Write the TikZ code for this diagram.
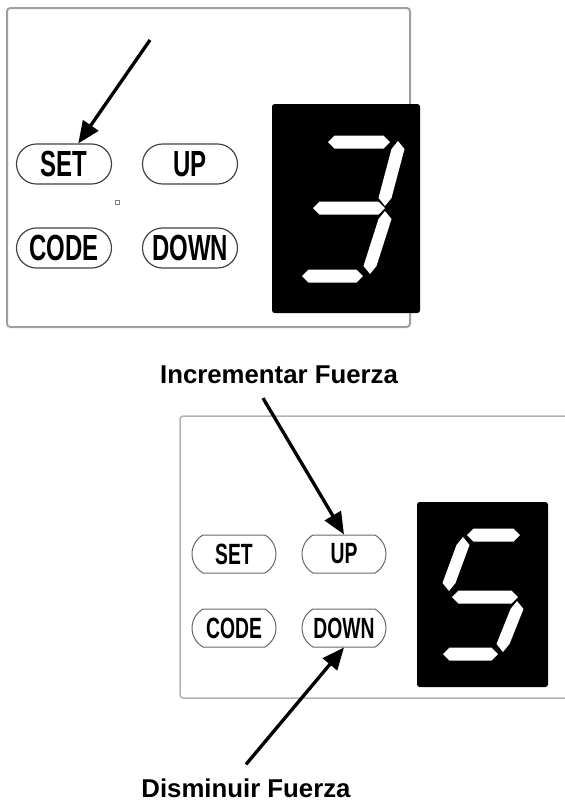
\documentclass[tikz,border=0pt]{standalone}
\usepackage{fontspec}
\setmainfont{Liberation Sans}
\usetikzlibrary{shapes.misc,arrows.meta}

\tikzset{
  panel/.style={draw=gray!75, line width=0.06cm, rounded corners=0.1cm},
  screen/.style={fill=black, rounded corners=0.08cm},
  keybig/.style={draw=black!75, line width=0.035cm, rounded rectangle, minimum width=2.85cm, minimum height=1.2cm, inner sep=0pt, font=\bfseries\fontsize{31}{31}\selectfont},
  keysmall/.style={draw=black!60, line width=0.03cm, rounded rectangle, rounded rectangle arc length=120, minimum width=2.52cm, minimum height=1.14cm, inner sep=0pt, font=\bfseries\fontsize{25}{25}\selectfont},
  callout/.style={font=\bfseries\fontsize{22}{22}\selectfont},
  pointer/.style={line width=0.1cm, -{Triangle[length=0.66cm,width=0.55cm]}},
  segment/.style={fill=white}
}
\newcommand{\keytext}[1]{\scalebox{0.66}[1]{#1}}
% seven segment pieces (pixel units)
\newcommand{\segh}[3]{\fill[segment] (#1,#3) -- ({#1+6.5},{#3-6.5}) -- ({#2-6.5},{#3-6.5}) -- (#2,#3) -- ({#2-6.5},{#3+6.5}) -- ({#1+6.5},{#3+6.5}) -- cycle;}
\newcommand{\segv}[4]{\fill[segment] (#1,#2) -- ({#1+6.5},{#2+8}) -- ({#3+6.5},{#4-8}) -- (#3,#4) -- ({#3-6.5},{#4-8}) -- ({#1-6.5},{#2+8}) -- cycle;}

\begin{document}
\begin{tikzpicture}[x=0.03cm, y=-0.03cm]
\useasboundingbox (0,0) rectangle (565,803);
\clip (0,0) rectangle (565,803);

% Top panel: SET
\draw[panel] (7,8) rectangle (410,327);
\node[keybig] (set1) at (64,164) {\keytext{SET}};
\node[keybig] (up1) at (190,164) {\keytext{UP}};
\node[keybig] (code1) at (64,248) {\keytext{CODE}};
\node[keybig] (down1) at (190,248) {\keytext{DOWN}};
\draw[gray, line width=0.02cm] (115,200) rectangle (119,204);
\fill[screen] (272,104) rectangle (420,313);
\segh{328}{390}{142}
\segh{313}{385}{208}
\segh{302}{363}{276}
\segv{398}{141}{385}{206}
\segv{385}{211}{370}{274}
\coordinate (settail) at (150,40);
\draw[pointer] (settail) -- (set1);

% Bottom panel: UP / DOWN
\draw[panel, draw=gray!60, line width=0.045cm] (180,416) rectangle (590,698);
\node[keysmall] (set2) at (234,554) {\keytext{SET}};
\node[keysmall] (up2) at (344,554) {\keytext{UP}};
\node[keysmall] (code2) at (234,628) {\keytext{CODE}};
\node[keysmall] (down2) at (344,628) {\keytext{DOWN}};
\fill[screen] (417,502) rectangle (548,687);
\segh{467}{520}{535}
\segv{463}{537}{449}{591}
\segh{452}{518}{597}
\segv{517}{601}{503}{652}
\segh{443}{498}{654}

\node[callout] (incr) at (279,375) {Incrementar Fuerza};
\node[callout] (decr) at (246,788) {Disminuir Fuerza};
\draw[pointer] ([xshift=-0.48cm,yshift=-0.3cm]incr.south) -- (up2.north);
\draw[pointer] ([yshift=0.3cm]decr.north) -- (down2.south);
\end{tikzpicture}
\end{document}
